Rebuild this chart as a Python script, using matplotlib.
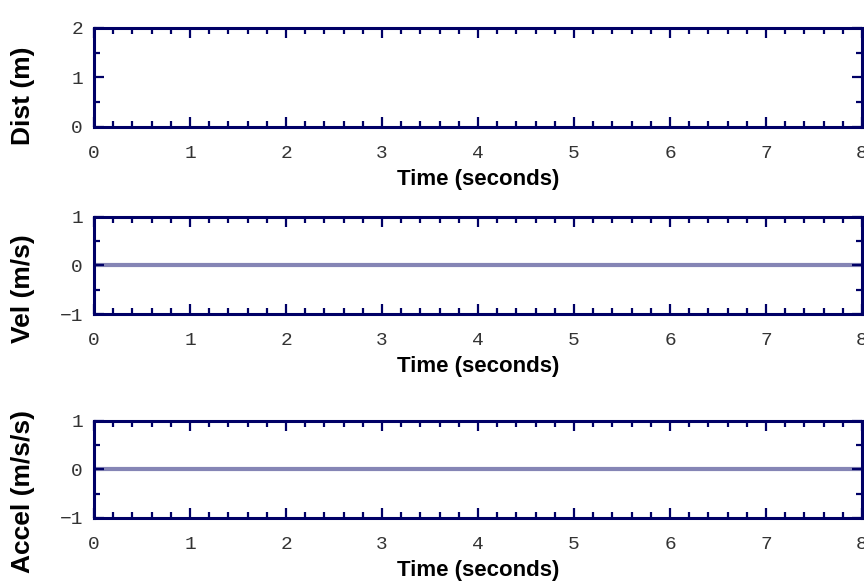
import numpy as np
import matplotlib
matplotlib.use("Agg")
from matplotlib import pyplot as plt
from matplotlib.ticker import MultipleLocator

# data
t = [0, 8]
vel = [0, 0]
accel = [0, 0]

ylabels = ['Dist (m)', 'Vel (m/s)', 'Accel (m/s/s)']
ylims = [(0, 2), (-1, 1), (-1, 1)]
series = [None, vel, accel]

navy = '#000066'
linecol = '#8585b5'

fig = plt.figure(figsize=(8.64, 5.83), dpi=100)

# axes boxes (left, bottom, width, height) in figure fraction
boxes = [(0.1088, 0.7822, 0.889, 0.170),
         (0.1088, 0.4614, 0.889, 0.1664),
         (0.1088, 0.1115, 0.889, 0.1664)]
# where the y label centre sits (axes fraction)
ylab_y = [0.32, 0.26, 0.27]

for i in range(3):
    ax = fig.add_axes(boxes[i])
    if series[i] is not None:
        ax.plot(t, series[i], color=linecol, lw=3, zorder=1)
    ax.set_xlim(0, 8)
    ax.set_ylim(*ylims[i])
    ax.xaxis.set_major_locator(MultipleLocator(1))
    ax.xaxis.set_minor_locator(MultipleLocator(0.2))
    ax.yaxis.set_major_locator(MultipleLocator(1))
    ax.yaxis.set_minor_locator(MultipleLocator(0.5))
    for s in ax.spines.values():
        s.set_color(navy)
        s.set_linewidth(2.2)
        s.set_zorder(3)
    ax.tick_params(which='both', direction='in', top=True, right=True,
                   color=navy, width=1.6)
    ax.tick_params(which='major', length=7, labelsize=14, labelcolor='#333333')
    ax.tick_params(which='minor', length=4.5)
    ax.tick_params(axis='x', which='major', pad=13)
    ax.tick_params(axis='y', which='major', pad=8)
    for lab in ax.get_xticklabels() + ax.get_yticklabels():
        lab.set_family('Liberation Mono')
    ax.set_xlabel('Time (seconds)', fontsize=16, fontweight='bold',
                  family='Liberation Sans', labelpad=5)
    ax.set_ylabel(ylabels[i], fontsize=19, fontweight='bold',
                  family='Liberation Sans')
    ax.yaxis.set_label_coords(-0.077, ylab_y[i])

fig.savefig('out.png', dpi=100)
